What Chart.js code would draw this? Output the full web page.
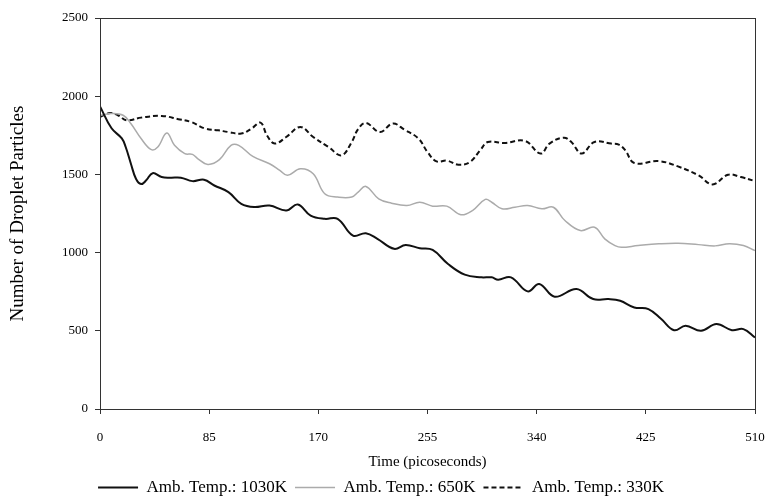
<!DOCTYPE html>
<html>
<head>
<meta charset="utf-8">
<script src="https://cdn.jsdelivr.net/npm/chart.js@4"></script>
<style>
  html, body { margin: 0; padding: 0; background: #fff; }
  #box { width: 770px; height: 500px; }
</style>
</head>
<body>
<div id="box"><canvas id="grafico"></canvas></div>
<script>
// tempo (ps) e numero de particulas
const t1030 = [0, 9, 17, 20, 24, 28, 32, 36, 41, 48, 55, 63, 72, 81, 89, 100, 110, 120, 132, 145, 154, 164, 175, 185, 197, 207, 216, 229, 238, 249, 259, 271, 284, 297, 305, 310, 320, 333, 342, 354, 371, 384, 396, 405, 416, 427, 437, 447, 456, 468, 480, 492, 501, 510];
const v1030 = [1935, 1795, 1730, 1675, 1570, 1472, 1438, 1462, 1508, 1483, 1479, 1479, 1457, 1466, 1429, 1387, 1312, 1291, 1301, 1269, 1308, 1237, 1216, 1216, 1109, 1124, 1088, 1024, 1049, 1028, 1017, 927, 859, 842, 842, 827, 842, 752, 799, 718, 767, 703, 703, 692, 649, 639, 575, 504, 532, 500, 543, 504, 511, 457];

const t650 = [0, 9, 18, 24, 32, 40, 45, 52, 58, 66, 72, 76, 84, 93, 102, 108, 119, 132, 140, 146, 156, 166, 175, 185, 196, 201, 207, 217, 227, 239, 249, 259, 270, 281, 290, 300, 305, 313, 323, 333, 344, 353, 362, 374, 385, 393, 401, 406, 419, 435, 450, 466, 479, 490, 501, 510];
const v650 = [1878, 1889, 1878, 1825, 1729, 1658, 1675, 1765, 1686, 1633, 1628, 1601, 1564, 1594, 1686, 1686, 1615, 1568, 1526, 1494, 1536, 1504, 1376, 1355, 1355, 1387, 1423, 1344, 1316, 1301, 1322, 1297, 1297, 1242, 1269, 1340, 1322, 1280, 1290, 1301, 1280, 1290, 1205, 1141, 1162, 1088, 1045, 1034, 1045, 1056, 1060, 1051, 1043, 1056, 1045, 1013];

const t330 = [0, 8, 14, 21, 32, 48, 61, 71, 82, 92, 100, 110, 118, 125, 130, 136, 145, 156, 166, 178, 188, 196, 201, 207, 218, 228, 237, 248, 255, 262, 270, 279, 288, 296, 302, 315, 331, 343, 350, 361, 367, 375, 385, 398, 404, 409, 416, 435, 450, 466, 477, 489, 499, 510];
const v330 = [1867, 1893, 1878, 1846, 1863, 1874, 1853, 1835, 1793, 1782, 1771, 1761, 1793, 1831, 1750, 1697, 1739, 1803, 1739, 1675, 1622, 1707, 1790, 1829, 1771, 1825, 1786, 1729, 1643, 1583, 1588, 1562, 1579, 1654, 1707, 1701, 1714, 1633, 1697, 1735, 1707, 1633, 1707, 1697, 1690, 1654, 1573, 1585, 1551, 1494, 1436, 1498, 1483, 1457];

const nomes = ["Amb. Temp.: 1030K", "Amb. Temp.: 650K", "Amb. Temp.: 330K"];
const xTicks = [0, 85, 170, 255, 340, 425, 510];
const yTicks = [0, 500, 1000, 1500, 2000, 2500];

function pontos(ts, vs) {
  return ts.map((t, i) => ({ x: t, y: vs[i] }));
}

const serif = "'Liberation Serif', 'Times New Roman', serif";

// moldura em volta da area do grafico
const moldura = {
  id: "moldura",
  afterDraw(chart) {
    const a = chart.chartArea;
    const c = chart.ctx;
    c.save();
    c.strokeStyle = "#333";
    c.lineWidth = 1;
    c.strokeRect(a.left + 0.5, a.top + 0.5, a.right - a.left, a.bottom - a.top);
    c.restore();
  }
};

// legenda com o mesmo tracejado das linhas
function legendaLabels(chart) {
  const itens = Chart.defaults.plugins.legend.labels.generateLabels(chart);
  itens.forEach((it) => {
    const ds = chart.data.datasets[it.datasetIndex];
    it.strokeStyle = ds.borderColor;
    it.lineWidth = ds.borderWidth;
    it.lineDash = ds.borderDash || [];
  });
  return itens;
}

const ctx = document.getElementById("grafico");

new Chart(ctx, {
  type: "line",
  data: {
    datasets: [
      {
        label: nomes[0],
        data: pontos(t1030, v1030),
        borderColor: "#111",
        borderWidth: 2,
        pointRadius: 0,
        tension: 0.4,
      },
      {
        label: nomes[1],
        data: pontos(t650, v650),
        borderColor: "#ababab",
        borderWidth: 1.5,
        pointRadius: 0,
        tension: 0.4,
      },
      {
        label: nomes[2],
        data: pontos(t330, v330),
        borderColor: "#111",
        borderWidth: 2,
        borderDash: [5, 3],
        pointRadius: 0,
        tension: 0.4,
      },
    ],
  },
  options: {
    responsive: true,
    maintainAspectRatio: false,
    animation: false,
    layout: { padding: { top: 18, right: 15, left: 7, bottom: -6 } },
    plugins: {
      tooltip: { enabled: false },
      legend: {
        position: "bottom",
        labels: {
          color: "#000",
          usePointStyle: true,
          pointStyle: "line",
          pointStyleWidth: 40,
          padding: 8,
          font: { family: serif, size: 17 },
          generateLabels: legendaLabels,
        },
      },
    },
    scales: {
      x: {
        type: "linear",
        min: 0,
        max: 510,
        afterBuildTicks: (s) => { s.ticks = xTicks.map(v => ({ value: v })); },
        afterFit: (s) => { s.height = 62; s.paddingLeft = 0; s.paddingRight = 0; },
        grid: { drawOnChartArea: false, drawTicks: true, tickLength: 5, color: "#333" },
        border: { color: "#333" },
        ticks: { color: "#000", padding: 16, font: { family: serif, size: 13 }, callback: (v) => String(v) },
        title: { display: true, text: "Time (picoseconds)", color: "#000", padding: 0, font: { family: serif, size: 15 } },
      },
      y: {
        min: 0,
        max: 2500,
        afterBuildTicks: (s) => { s.ticks = yTicks.map(v => ({ value: v })); },
        afterFit: (s) => { s.width = 93; s.paddingTop = 0; s.paddingBottom = 0; },
        grid: { drawOnChartArea: false, drawTicks: true, tickLength: 5, color: "#333" },
        border: { color: "#333" },
        ticks: { color: "#000", padding: 7, font: { family: serif, size: 13 }, callback: (v) => String(v) },
        title: { display: true, text: "Number of Droplet Particles", color: "#000", padding: 0, font: { family: serif, size: 19 } },
      },
    },
  },
  plugins: [moldura],
});
</script>
</body>
</html>
